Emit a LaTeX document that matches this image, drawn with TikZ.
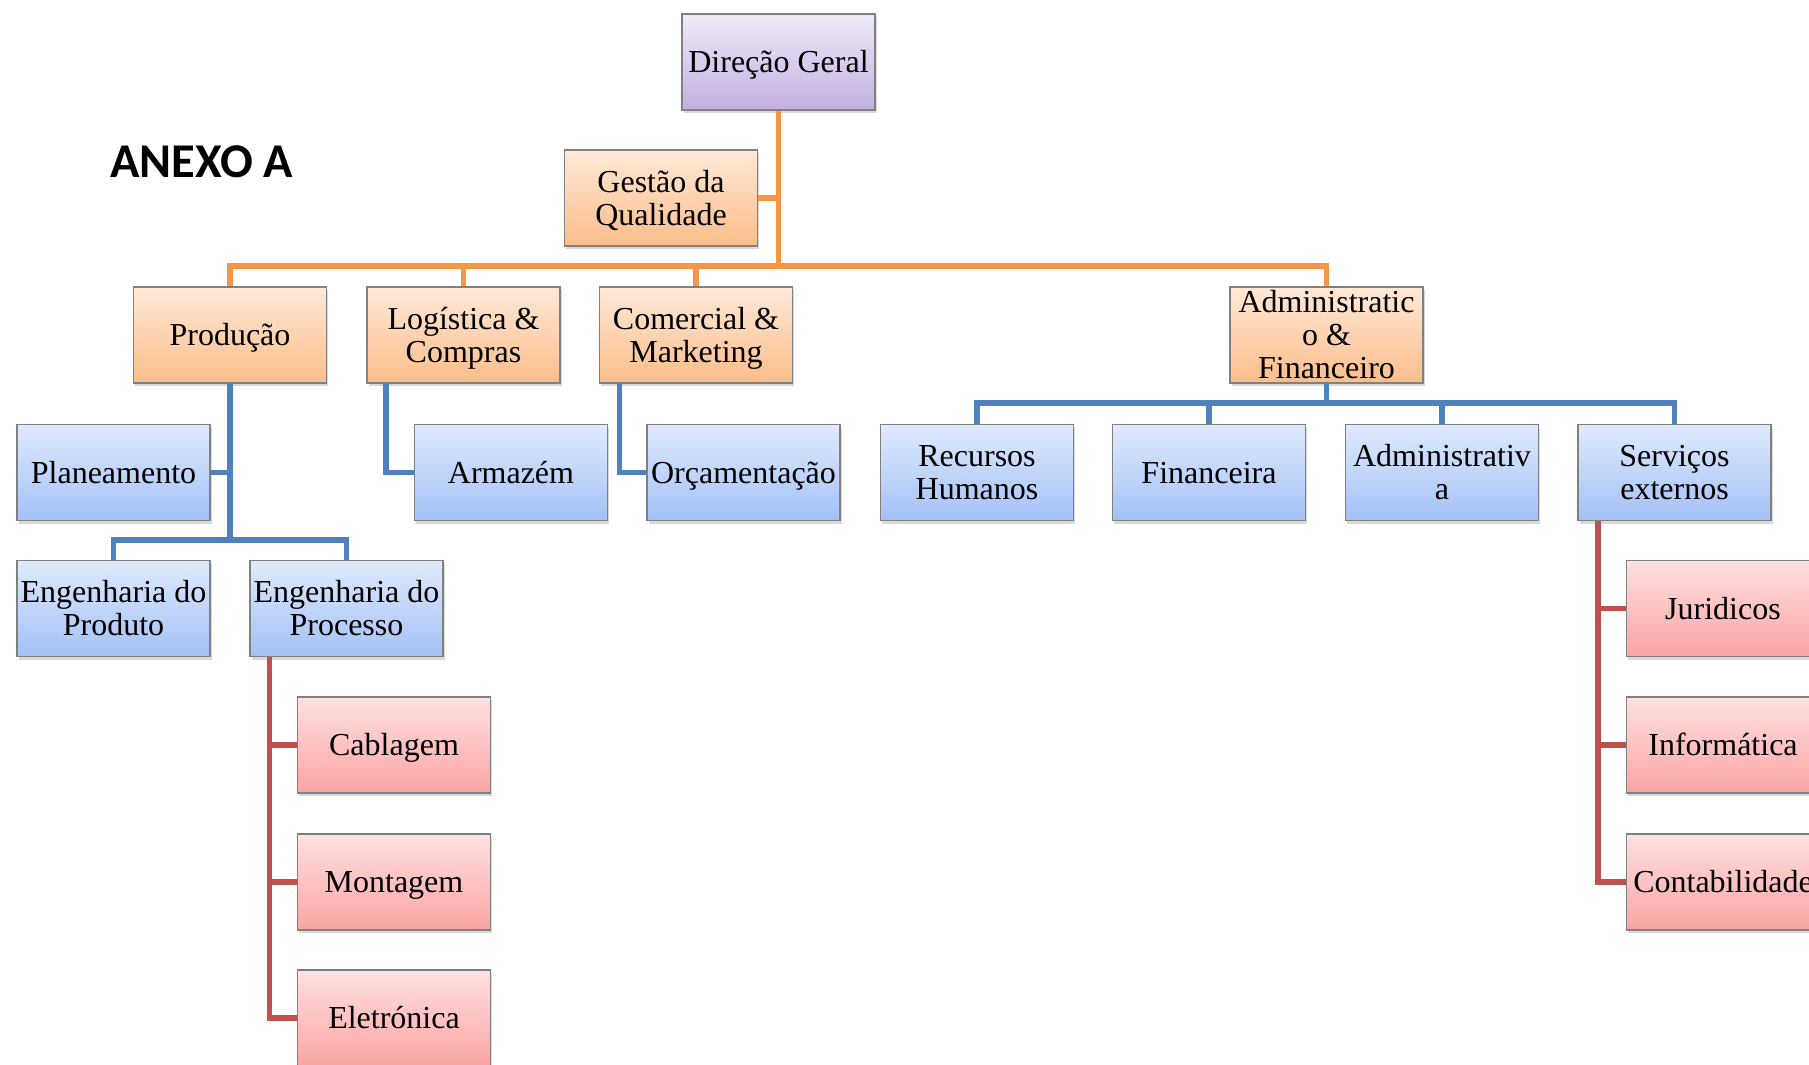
\documentclass[tikz,border=0pt]{standalone}
\usepackage{fontspec}
\setmainfont{Liberation Serif}
\newfontfamily\anexofont{Carlito}
\usetikzlibrary{shadows}

% connector colours
\definecolor{lineorange}{HTML}{F79646}
\definecolor{lineblue}{HTML}{4F81BD}
\definecolor{linered}{HTML}{C0504D}
% box fills (top / bottom of the gradient)
\definecolor{purpletop}{HTML}{EFE9F8}
\definecolor{purplebot}{HTML}{C3B0E2}
\definecolor{orangetop}{HTML}{FFE9D8}
\definecolor{orangebot}{HTML}{FBBD8A}
\definecolor{bluetop}{HTML}{DFEAFD}
\definecolor{bluebot}{HTML}{A3C1F6}
\definecolor{redtop}{HTML}{FFE1E1}
\definecolor{redbot}{HTML}{FBA3A3}
\definecolor{boxborder}{HTML}{808080}

% box label: centred lines on fixed struts, set a little below the box middle,
% taking no room of its own so the box keeps its size
\newcommand\caixatexto[1]{\raisebox{-10.2pt}[0pt][0pt]{\begin{tabular}{@{}c@{}}#1\end{tabular}}}

\tikzset{
  unit/.style={rectangle, draw=boxborder, line width=1.2pt,
    minimum width=193pt, minimum height=96pt, inner sep=0pt,
    font=\fontsize{32}{33}\selectfont,
    drop shadow={shadow xshift=1.5pt, shadow yshift=-3pt, opacity=0.3}},
  topunit/.style={unit, top color=purpletop, bottom color=purplebot},
  deptunit/.style={unit, top color=orangetop, bottom color=orangebot},
  secunit/.style={unit, top color=bluetop, bottom color=bluebot},
  subunit/.style={unit, top color=redtop, bottom color=redbot},
  oline/.style={draw=lineorange, line width=5.5pt},
  bline/.style={draw=lineblue, line width=5.5pt},
  rline/.style={draw=linered, line width=5.5pt},
}

\begin{document}
\begin{tikzpicture}[x=1pt,y=-1pt]
\useasboundingbox (0,0) rectangle (1809,1065);

% title
\node[anchor=base west, inner sep=0pt, font=\anexofont\bfseries\fontsize{48.5}{52}\selectfont]
  (titulo) at (110,177) {ANEXO A};

% top level
\node[topunit]  (dg) at (778.5,62) {\caixatexto{Direção Geral}};
\node[deptunit] (gq) at (661,198)  {\caixatexto{Gestão da\\Qualidade}};

% departments
\node[deptunit] (prod) at (230,335)    {\caixatexto{Produção}};
\node[deptunit] (log)  at (463.5,335)  {\caixatexto{Logística \&\\Compras}};
\node[deptunit] (com)  at (696,335)    {\caixatexto{Comercial \&\\Marketing}};
\node[deptunit] (adm)  at (1326.5,335) {\caixatexto{Administratic\\o \&\\Financeiro}};

% sections
\node[secunit] (plan) at (113.5,472.5)  {\caixatexto{Planeamento}};
\node[secunit] (arm)  at (511,472.5)    {\caixatexto{Armazém}};
\node[secunit] (orc)  at (743.5,472.5)  {\caixatexto{Orçamentação}};
\node[secunit] (rh)   at (977,472.5)    {\caixatexto{Recursos\\Humanos}};
\node[secunit] (fin)  at (1209,472.5)   {\caixatexto{Financeira}};
\node[secunit] (adma) at (1442,472.5)   {\caixatexto{Administrativ\\a}};
\node[secunit] (serv) at (1674.5,472.5) {\caixatexto{Serviços\\externos}};
\node[secunit] (engprod) at (113.5,608.5) {\caixatexto{Engenharia do\\Produto}};
\node[secunit] (engproc) at (346.5,608.5) {\caixatexto{Engenharia do\\Processo}};

% sub-sections
\node[subunit] (cab)  at (394,745)    {\caixatexto{Cablagem}};
\node[subunit] (mon)  at (394,882)    {\caixatexto{Montagem}};
\node[subunit] (ele)  at (394,1018)   {\caixatexto{Eletrónica}};
\node[subunit] (jur)  at (1723,608.5) {\caixatexto{Juridicos}};
\node[subunit] (inf)  at (1723,745)   {\caixatexto{Informática}};
\node[subunit] (cont) at (1723,882)   {\caixatexto{Contabilidade}};

% bus levels and trunk positions
\coordinate (obar) at (0,266);
\coordinate (pbar) at (0,540);
\coordinate (abar) at (0,403);
\coordinate (logx) at (386,0);
\coordinate (comx) at (619.5,0);
\coordinate (procx) at (269.5,0);
\coordinate (servx) at (1598,0);

% orange connectors
\draw[oline] (dg.south) -- (dg.south |- obar);
\draw[oline] (gq.east) -- (gq.east -| dg.south);
\draw[oline] (prod.north) -- (prod.north |- obar) -| (adm.north);
\draw[oline] (log.north) -- (log.north |- obar);
\draw[oline] (com.north) -- (com.north |- obar);

% blue connectors
\draw[bline] (prod.south) -- (prod.south |- pbar);
\draw[bline] (plan.east) -- (plan.east -| prod.south);
\draw[bline] (engprod.north) -- (engprod.north |- pbar) -| (engproc.north);
\draw[bline] (log.south -| logx) |- (arm.west);
\draw[bline] (com.south -| comx) |- (orc.west);
\draw[bline] (adm.south) -- (adm.south |- abar);
\draw[bline] (rh.north) -- (rh.north |- abar) -| (serv.north);
\draw[bline] (fin.north) -- (fin.north |- abar);
\draw[bline] (adma.north) -- (adma.north |- abar);

% red connectors
\draw[rline] (engproc.south -| procx) |- (ele.west);
\draw[rline] (cab.west) -- (cab.west -| procx);
\draw[rline] (mon.west) -- (mon.west -| procx);
\draw[rline] (serv.south -| servx) |- (cont.west);
\draw[rline] (jur.west) -- (jur.west -| servx);
\draw[rline] (inf.west) -- (inf.west -| servx);
\end{tikzpicture}
\end{document}
